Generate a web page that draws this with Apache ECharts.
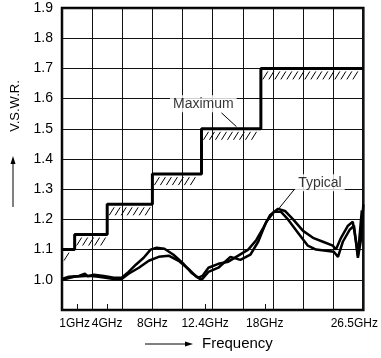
<!DOCTYPE html>
<html>
<head>
<meta charset="utf-8">
<script src="https://cdn.jsdelivr.net/npm/echarts@6/dist/echarts.min.js"></script>
<style>
  html, body { margin: 0; padding: 0; background: #fff; }
  #chart { width: 381px; height: 358px; }
</style>
</head>
<body>
<div id="chart"></div>
<script>
// x is measured in grid divisions (0..10); frequency labels sit at these positions
const freqTickPos = [0.52, 1.5, 3, 4.75, 6.73, 10];
const freqTickLabels = ['1GHz', '4GHz', '8GHz', '12.4GHz', '18GHz', '26.5GHz'];
const minorTickPos = [0.52, 1.5, 4.75, 6.73];

// maximum spec: step edges and levels
const maxEdges = [0, 0.42, 1.5, 3, 4.63, 6.6, 10];
const maxLevels = [1.1, 1.15, 1.25, 1.35, 1.5, 1.7];

// typical curves (x in divisions, V.S.W.R.)
const typicalA = [
  [0, 1.003], [0.23, 1.01], [0.56, 1.013], [0.76, 1.02], [0.85, 1.012], [1.06, 1.017],
  [1.39, 1.013], [1.72, 1.007], [1.98, 1.007], [2.21, 1.026], [2.45, 1.05], [2.71, 1.073],
  [2.94, 1.1], [3.14, 1.106], [3.4, 1.103], [3.7, 1.083], [4.03, 1.053], [4.3, 1.023],
  [4.53, 1.007], [4.66, 1.013], [4.86, 1.04], [5.19, 1.053], [5.52, 1.06], [5.85, 1.08],
  [6.18, 1.1], [6.45, 1.132], [6.68, 1.172], [6.91, 1.215], [7.17, 1.235], [7.4, 1.228],
  [7.67, 1.2], [8.0, 1.162], [8.33, 1.139], [8.66, 1.126], [8.99, 1.113], [9.09, 1.1],
  [9.26, 1.139], [9.49, 1.179], [9.65, 1.192], [9.75, 1.132], [9.82, 1.08], [9.88, 1.15],
  [9.95, 1.23]
];
const typicalB = [
  [0, 1.0], [0.4, 1.01], [0.89, 1.013], [1.22, 1.01], [1.72, 1.003], [1.98, 1.003],
  [2.21, 1.02], [2.55, 1.04], [2.88, 1.063], [3.21, 1.076], [3.54, 1.08], [3.87, 1.063],
  [4.2, 1.036], [4.46, 1.01], [4.63, 1.0], [4.86, 1.026], [5.19, 1.04], [5.59, 1.076],
  [5.92, 1.066], [6.25, 1.083], [6.51, 1.126], [6.78, 1.192], [7.04, 1.225], [7.27, 1.225],
  [7.5, 1.2], [7.83, 1.156], [8.16, 1.113], [8.43, 1.1], [8.76, 1.096], [9.02, 1.093],
  [9.16, 1.076], [9.32, 1.126], [9.55, 1.166], [9.69, 1.179], [9.82, 1.073], [9.92, 1.132],
  [10, 1.25]
];

// step line points
const maxPoints = [];
maxLevels.forEach((lv, i) => {
  maxPoints.push([maxEdges[i], lv]);
  maxPoints.push([maxEdges[i + 1], lv]);
});
const steps = maxLevels.map((lv, i) => [maxEdges[i], maxEdges[i + 1], lv]);

const myChart = echarts.init(document.getElementById('chart'));
const font = 'Liberation Sans, Arial, sans-serif';

// short slanted strokes under each step
function renderHatch(params, api) {
  const a = api.coord([api.value(0), api.value(2)]);
  const b = api.coord([api.value(1), api.value(2)]);
  const kids = [];
  for (let x = a[0] + 2; x + 6 <= b[0]; x += 6) {
    kids.push({
      type: 'line',
      shape: { x1: x, y1: a[1] + 11, x2: x + 5, y2: a[1] + 3 },
      style: { stroke: '#000', lineWidth: 1 }
    });
  }
  return { type: 'group', children: kids };
}

const option = {
  animation: false,
  textStyle: { fontFamily: font, color: '#000' },
  grid: {
    left: 62, top: 8, width: 303, height: 302,
    show: true, borderColor: '#000', borderWidth: 2.5
  },
  xAxis: [
    {
      type: 'value',
      min: 0, max: 10, interval: 1,
      axisLine: { show: false },
      axisTick: { show: false },
      axisLabel: { show: false },
      splitLine: { show: true, lineStyle: { color: '#111', width: 1 } }
    },
    {
      type: 'value', position: 'bottom', offset: 0,
      min: 0, max: 10, interval: 1,
      axisLine: { show: false },
      splitLine: { show: false },
      axisTick: {
        show: true, inside: true, length: 6,
        customValues: minorTickPos,
        lineStyle: { color: '#111', width: 1 }
      },
      axisLabel: {
        customValues: freqTickPos,
        margin: 8,
        fontSize: 12,
        color: '#000',
        fontFamily: font,
        formatter: function (v) {
          let k = 0;
          freqTickPos.forEach((p, i) => { if (Math.abs(p - v) < 1e-6) k = i; });
          if (k === 0) return '{a|' + freqTickLabels[k] + '}';
          if (k === freqTickLabels.length - 1) return '{r|' + freqTickLabels[k] + '}';
          return freqTickLabels[k];
        },
        rich: {
          a: { fontSize: 12, fontFamily: font, color: '#000', padding: [0, 6, 0, 0] },
          r: { fontSize: 12, fontFamily: font, color: '#000', padding: [0, 18, 0, 0] }
        }
      }
    }
  ],
  yAxis: {
    type: 'value',
    min: 0.9, max: 1.9, interval: 0.1,
    axisLine: { show: false },
    axisTick: { show: false },
    splitLine: { show: true, lineStyle: { color: '#111', width: 1 } },
    axisLabel: {
      margin: 9,
      fontSize: 14,
      color: '#000',
      fontFamily: font,
      formatter: v => (v < 0.95 ? '' : v.toFixed(1))
    }
  },
  graphic: [
    {
      type: 'text', x: 15, y: 106, rotation: Math.PI / 2,
      style: { text: 'V.S.W.R.', font: '13px ' + font, fill: '#000', align: 'center', verticalAlign: 'middle' }
    },
    { type: 'line', shape: { x1: 13, y1: 207, x2: 13, y2: 162 }, style: { stroke: '#000', lineWidth: 1 } },
    { type: 'polygon', shape: { points: [[13, 156], [10.5, 164], [15.5, 164]] }, style: { fill: '#000' } },
    { type: 'line', shape: { x1: 145, y1: 344, x2: 186, y2: 344 }, style: { stroke: '#000', lineWidth: 1 } },
    { type: 'polygon', shape: { points: [[193, 344], [185, 341.5], [185, 346.5]] }, style: { fill: '#000' } },
    {
      type: 'text', x: 202, y: 344,
      style: { text: 'Frequency', font: '15px ' + font, fill: '#000', align: 'left', verticalAlign: 'middle' }
    }
  ],
  series: [
    {
      type: 'custom',
      data: steps,
      renderItem: renderHatch,
      silent: true,
      z: 2
    },
    {
      type: 'line',
      data: maxPoints,
      symbol: 'none',
      lineStyle: { color: '#000', width: 3 },
      z: 3
    },
    {
      type: 'line', data: typicalA, symbol: 'none',
      lineStyle: { color: '#000', width: 2.5 }, z: 4
    },
    {
      type: 'line', data: typicalB, symbol: 'none',
      lineStyle: { color: '#000', width: 2.5 }, z: 4
    },
    {
      type: 'line', data: [[5.29, 1.553], [5.79, 1.507]], symbol: 'none',
      lineStyle: { color: '#000', width: 1 }, z: 5
    },
    {
      type: 'line', data: [[7.7, 1.298], [7.11, 1.225]], symbol: 'none',
      lineStyle: { color: '#000', width: 1 }, z: 5
    },
    {
      type: 'scatter',
      data: [[4.69, 1.583, 'Maximum'], [8.56, 1.321, 'Typical']],
      symbolSize: 0.1,
      itemStyle: { color: 'rgba(0,0,0,0)' },
      label: {
        show: true, position: 'inside',
        formatter: p => p.value[2],
        fontSize: 14, fontFamily: font, color: '#000',
        backgroundColor: '#fff', padding: [2, 3, 1, 3]
      },
      z: 6
    }
  ]
};

myChart.setOption(option);
</script>
</body>
</html>
